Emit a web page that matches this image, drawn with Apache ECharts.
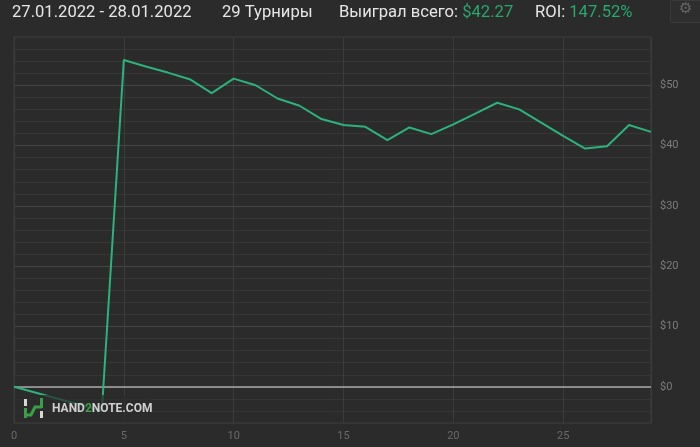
<!DOCTYPE html>
<html>
<head>
<meta charset="utf-8">
<script src="https://cdn.jsdelivr.net/npm/echarts@6/dist/echarts.min.js"></script>
<style>
  html, body { margin: 0; padding: 0; background: #2b2b2b; }
  #chart { width: 700px; height: 447px; }
</style>
</head>
<body>
<div id="chart"></div>
<script>
// cumulative profit after each tournament
const tournaments = [0, 1, 2, 3, 4, 5, 6, 7, 8, 9, 10, 11, 12, 13, 14, 15, 16, 17, 18, 19, 20, 21, 22, 23, 24, 25, 26, 27, 28, 29];
const profit = [0, -0.99, -1.98, -2.97, -3.96, 54.2, 53.1, 52.1, 51.0, 48.7, 51.1, 50.0, 47.8, 46.6, 44.4, 43.4, 43.1, 40.9, 43.0, 41.9,
    43.5, 45.3, 47.1, 46.0, 43.8, 41.6, 39.5, 39.9, 43.4, 42.27];
const headerDate = "27.01.2022 - 28.01.2022";
const headerCount = "29 Турниры";
const headerWonLabel = "Выиграл всего: ";
const headerWon = "$42.27";
const headerRoiLabel = "ROI: ";
const headerRoi = "147.52%";

const chart = echarts.init(document.getElementById("chart"));

const font = "Roboto, 'Open Sans', sans-serif";
const headFont = "16.6px " + font;
const logoGreen = "#3aa048";
const logoWhite = "#d6d6d6";

chart.setOption({
    backgroundColor: "#2b2b2b",
    animation: false,
    grid: { left: 14, right: 49, top: 37, bottom: 24, show: true, borderColor: "#3c3c3c", borderWidth: 1 },
    xAxis: {
        type: "value",
        min: 0,
        max: 29,
        interval: 5,
        axisLine: { show: false },
        axisTick: { show: false },
        axisLabel: { color: "#6a6a6a", fontSize: 11, fontFamily: font, margin: 8, showMaxLabel: false },
        splitLine: { lineStyle: { color: "#3c3c3c", width: 1 } },
    },
    yAxis: {
        type: "value",
        position: "right",
        min: -6,
        max: 58,
        interval: 2,
        axisLine: { show: false },
        axisTick: { show: false },
        axisLabel: {
            color: "#7c7c7c",
            fontSize: 11,
            fontFamily: font,
            margin: 9,
            formatter: (v) => (v % 10 === 0 ? "$" + v : ""),
        },
        splitLine: { lineStyle: { color: ["#363636", "#363636", "#363636", "#464646", "#363636"], width: 1 } },
    },
    series: [
        {
            type: "line",
            data: tournaments.map((t, i) => [t, profit[i]]),
            symbol: "none",
            lineStyle: { color: "#2db27d", width: 2 },
            itemStyle: { color: "#2db27d" },
            z: 3,
            markLine: {
                silent: true,
                symbol: "none",
                label: { show: false },
                lineStyle: { color: "#a8a8a8", type: "solid", width: 1.5 },
                data: [{ yAxis: 0 }],
                z: 2,
            },
        },
    ],
    graphic: [
        {
            type: "text", left: 12, top: 4,
            style: { text: headerDate, fill: "#e6e6e6", font: headFont },
        },
        {
            type: "text", left: 222, top: 4,
            style: { text: headerCount, fill: "#e6e6e6", font: headFont },
        },
        {
            type: "text", left: 339, top: 4,
            style: {
                text: "{a|" + headerWonLabel + "}{b|" + headerWon + "}",
                rich: {
                    a: { fill: "#e6e6e6", font: headFont },
                    b: { fill: "#26a86e", font: headFont },
                },
            },
        },
        {
            type: "text", left: 535, top: 4,
            style: {
                text: "{a|" + headerRoiLabel + "}{b|" + headerRoi + "}",
                rich: {
                    a: { fill: "#e6e6e6", font: headFont },
                    b: { fill: "#26a86e", font: headFont },
                },
            },
        },
        // settings button
        {
            type: "rect", left: 670, top: 0,
            shape: { width: 34, height: 22, r: 2 },
            style: { fill: "#2e2e2e", stroke: "#3a3a3a", lineWidth: 1 },
        },
        {
            type: "text", left: 679, top: 2,
            style: { text: "⚙", fill: "#666666", font: "15px 'DejaVu Sans'" },
        },
        // watermark
        { type: "rect", z: 100, shape: { x: 15, y: 395, width: 136, height: 27 }, style: { fill: "rgba(43,43,43,0.72)" } },
        { type: "rect", z: 101, shape: { x: 24, y: 399, width: 3, height: 7 }, style: { fill: logoWhite } },
        { type: "rect", z: 101, shape: { x: 24, y: 408, width: 3, height: 10 }, style: { fill: logoGreen } },
        { type: "rect", z: 101, shape: { x: 40, y: 398, width: 3, height: 10 }, style: { fill: logoGreen } },
        { type: "rect", z: 101, shape: { x: 40, y: 411, width: 3, height: 7 }, style: { fill: logoWhite } },
        {
            type: "polyline", z: 101,
            shape: { points: [[25, 415], [31, 415], [35, 407], [42, 407]] },
            style: { stroke: logoGreen, lineWidth: 3, fill: null },
        },
        {
            type: "text", z: 101, x: 52, y: 403,
            style: {
                text: "{a|HAND}{b|2}{a|NOTE.COM}",
                rich: {
                    a: { fill: "#d0d0d0", font: "bold 12px " + font },
                    b: { fill: logoGreen, font: "bold 12px " + font },
                },
            },
        },
    ],
});
</script>
</body>
</html>
